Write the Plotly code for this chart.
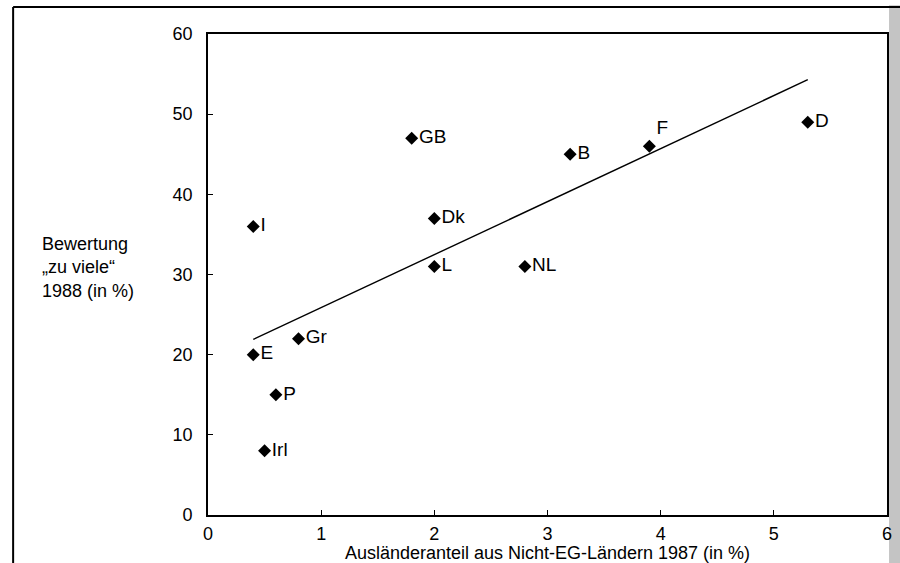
import plotly.graph_objects as go

countries = ["I", "GB", "Dk", "L", "NL", "B", "F", "D", "Gr", "E", "P", "Irl"]
auslaenderanteil = [0.4, 1.8, 2.0, 2.0, 2.8, 3.2, 3.9, 5.3, 0.8, 0.4, 0.6, 0.5]
bewertung = [36, 47, 37, 31, 31, 45, 46, 49, 22, 20, 15, 8]
label_pos = ["middle right"] * 6 + ["top right"] + ["middle right"] * 5

trend_x = [0.4, 5.3]
trend_y = [21.9, 54.3]

x_ticks = [0, 1, 2, 3, 4, 5, 6]
y_ticks = [0, 10, 20, 30, 40, 50, 60]

FONT = "Liberation Sans, Arial, Helvetica, sans-serif"

fig = go.Figure()
fig.add_trace(go.Scatter(
    x=trend_x, y=trend_y, mode="lines",
    line=dict(color="black", width=1.4), hoverinfo="skip", showlegend=False))
fig.add_trace(go.Scatter(
    x=auslaenderanteil, y=bewertung, mode="markers+text",
    text=countries, textposition=label_pos,
    textfont=dict(family=FONT, size=19, color="black"),
    marker=dict(symbol="diamond", size=10, color="black"),
    showlegend=False))

fig.update_layout(
    width=900, height=563,
    margin=dict(l=208, r=13, t=34, b=48, autoexpand=False),
    paper_bgcolor="white", plot_bgcolor="white",
    font=dict(family=FONT, size=17, color="black"),
    xaxis=dict(range=[0, 6], tickvals=x_ticks, ticks="inside", ticklen=5,
               tickcolor="black", showline=True, linecolor="black", linewidth=1.6,
               mirror=True, showgrid=False, zeroline=False, automargin=False,
               tickfont=dict(size=18), ticklabelstandoff=2,
               title=dict(text="Ausländeranteil aus Nicht-EG-Ländern 1987 (in %)",
                          font=dict(size=18), standoff=4)),
    yaxis=dict(range=[0, 60], tickvals=y_ticks, ticks="inside", ticklen=5,
               tickcolor="black", showline=True, linecolor="black", linewidth=1.6,
               mirror=True, showgrid=False, zeroline=False, automargin=False,
               tickfont=dict(size=18), ticklabelstandoff=10),
    annotations=[dict(
        text="Bewertung<br>„zu viele“<br>1988 (in %)",
        xref="paper", yref="paper", x=-0.248, y=0.514, xanchor="left", yanchor="middle",
        align="left", showarrow=False, font=dict(size=18))],
    shapes=[
        dict(type="rect", xref="paper", yref="paper", x0=1.003, x1=1.03, y0=-0.2, y1=1.06,
             fillcolor="#c4c4c4", line=dict(width=0), layer="below"),
        dict(type="line", xref="paper", yref="paper", x0=-0.287, x1=1.03, y0=1.056, y1=1.056,
             line=dict(color="black", width=2)),
        dict(type="line", xref="paper", yref="paper", x0=-0.287, x1=-0.287, y0=-0.2, y1=1.056,
             line=dict(color="black", width=2)),
    ],
)

fig.write_html("out.html", config={"displayModeBar": False},
               post_script="document.body.style.margin='0px';document.body.style.overflow='hidden';")
